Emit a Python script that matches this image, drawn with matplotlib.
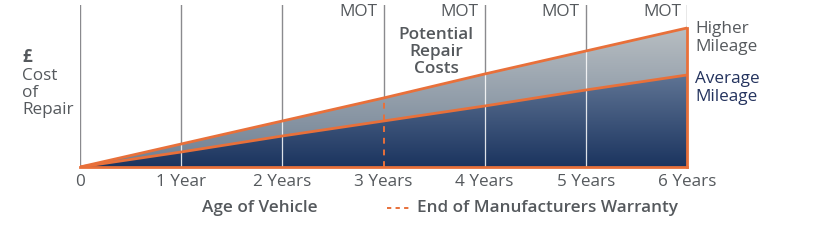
import numpy as np
import matplotlib.pyplot as plt
from matplotlib.colors import LinearSegmentedColormap

# data (arbitrary cost units)
years = [0, 1, 2, 3, 4, 5, 6]
higher_mileage = [0, 23, 46, 69, 93, 116, 139]
average_mileage = [0, 15, 31, 46, 61, 77, 92]
tick_labels = ['0', '1 Year', '2 Years', '3 Years', '4 Years', '5 Years', '6 Years']
mot_years = [3, 4, 5, 6]
warranty_end = 3

orange = '#e8703a'
grey_txt = '#55595d'
navy_txt = '#24335e'
plt.rcParams['font.family'] = ['Open Sans', 'DejaVu Sans']
fs = 12.3

fig = plt.figure(figsize=(8.15, 2.4), dpi=100)
ax = fig.add_axes([80 / 815, 73 / 240, 607 / 815, 162 / 240])
ax.set_xlim(0, 6)
ax.set_ylim(0, 162)
ax.axis('off')

# grey year lines behind everything
for yr in years:
    ax.axvline(yr, color='#8a8a8e', lw=1.0, zorder=1)

# gradient fills, clipped to the two bands
light = LinearSegmentedColormap.from_list('light', ['#6e7f93', '#b8bec2'])
dark = LinearSegmentedColormap.from_list('dark', ['#1b345f', '#5f7494'])
grad = np.linspace(0, 1, 256).reshape(-1, 1)

band_hi = ax.fill_between(years, average_mileage, higher_mileage, color='none', lw=0)
img = ax.imshow(grad, cmap=light, origin='lower', aspect='auto',
                extent=[0, 6, 0, max(higher_mileage)], zorder=2)
img.set_clip_path(band_hi.get_paths()[0], transform=ax.transData)

band_lo = ax.fill_between(years, 0, average_mileage, color='none', lw=0)
img2 = ax.imshow(grad, cmap=dark, origin='lower', aspect='auto',
                 extent=[0, 6, 0, max(average_mileage)], zorder=2)
img2.set_clip_path(band_lo.get_paths()[0], transform=ax.transData)
ax.set_xlim(0, 6)
ax.set_ylim(0, 162)

# white year lines inside the fill
for i, yr in enumerate(years[1:-1], start=1):
    if yr == warranty_end:
        continue
    ax.plot([yr, yr], [0, higher_mileage[i]], color='white', lw=0.9, alpha=0.85, zorder=3)

# warranty dashed line
ax.plot([warranty_end, warranty_end], [0, higher_mileage[warranty_end]],
        color=orange, lw=1.4, ls=(0, (3, 3)), zorder=4)

# orange outlines
ax.plot(years, higher_mileage, color=orange, lw=2, zorder=5, solid_capstyle='round')
ax.plot(years, average_mileage, color=orange, lw=2, zorder=5)
ax.plot([0, 6], [0, 0], color=orange, lw=2, zorder=5, clip_on=False)
ax.plot([6, 6], [0, higher_mileage[-1]], color=orange, lw=2, zorder=5, clip_on=False)

# MOT labels
for yr in mot_years:
    ax.text(yr - 0.06, 155, 'MOT', ha='right', va='center', fontsize=fs, color=grey_txt)

ax.text(3.52, 115, 'Potential\nRepair\nCosts', ha='center', va='center', fontsize=fs,
        fontweight='semibold', color=grey_txt, linespacing=1.1)

ax.text(6.08, 129, 'Higher\nMileage', ha='left', va='center', fontsize=fs,
        color=grey_txt, linespacing=1.1, clip_on=False)
ax.text(6.08, 79, 'Average\nMileage', ha='left', va='center', fontsize=fs,
        color=navy_txt, linespacing=1.1, clip_on=False)

# y label block
ax.text(-0.57, 110, '£', ha='left', va='center', fontsize=fs, fontweight='bold', color=grey_txt)
ax.text(-0.57, 74, 'Cost\nof\nRepair', ha='left', va='center', fontsize=fs,
        color=grey_txt, linespacing=1.1)

# x tick labels
for yr, lab in zip(years, tick_labels):
    ax.text(yr, -15, lab, ha='center', va='center', fontsize=fs, color=grey_txt)

ax.text(1.78, -41, 'Age of Vehicle', ha='center', va='center', fontsize=fs,
        fontweight='semibold', color=grey_txt)
ax.plot([3.03, 3.27], [-41, -41], color=orange, lw=1.4, ls=(0, (2.2, 2.2)), clip_on=False)
ax.text(3.33, -41, 'End of Manufacturers Warranty', ha='left', va='center', fontsize=fs,
        fontweight='semibold', color=grey_txt)

fig.savefig('out.png', dpi=100, facecolor='white')
